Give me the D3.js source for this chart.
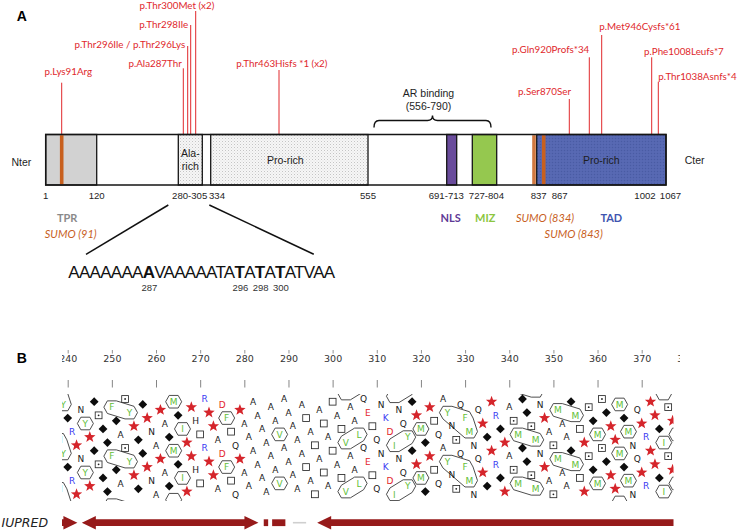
<!DOCTYPE html>
<html><head><meta charset="utf-8">
<script src="https://cdn.jsdelivr.net/npm/d3@7"></script>
<style>
body{margin:0;background:#fff;}
svg{display:block;}
</style></head><body>
<svg id="c" width="738" height="531"></svg>
<script>
// ================= DATA =================
// Panel A: protein schematic (residue numbers)
const domainStarts = [1, 280, 334, 691, 727, 837];
const domainEnds   = [120, 305, 555, 713, 804, 1067];
const domainNames  = ["TPR", "Ala-rich", "Pro-rich", "NLS", "MIZ", "TAD"];
const domainInner  = ["", "Ala-|rich", "Pro-rich", "", "", "Pro-rich"];
const sumoSites    = [91, 834, 843];
const mutationPos  = [91, 287, 296, 298, 300, 463, 870, 920, 946, 1008, 1038];
const mutationLabels = ["p.Lys91Arg", "p.Ala287Thr", "p.Thr296Ile / p.Thr296Lys", "p.Thr298Ile",
  "p.Thr300Met (x2)", "p.Thr463Hisfs *1 (x2)", "p.Ser870Ser", "p.Gln920Profs*34",
  "p.Met946Cysfs*61", "p.Phe1008Leufs*7", "p.Thr1038Asnfs*4"];
const boundaryLabels = ["1", "120", "280-305", "334", "555", "691-713", "727-804", "837", "867", "1002", "1067"];
const boundaryRes    = [1, 120, 292.5, 334, 555, 691, 765.5, 837, 867, 1002, 1067];
const annotLabels = ["TPR", "SUMO (91)", "NLS", "MIZ", "SUMO (834)", "TAD", "SUMO (843)"];
const annotRes    = [60.5, 91, 702, 765.5, 834, 952, 843];
const arBinding = [556, 790];
const zoomRange = [280, 305];
const zoomSeq = "AAAAAAAAVAAAAATATATATATVAA";
const zoomHighlights = [287, 296, 298, 300];

// Panel B: HCA of residues 238-378
const hcaStart = 238;
const seqBefore = "MYGRPNYPGSGGFGASYPGGPNAPAGMGIPPHTRPPADFTQP";
const seqAfter  = "LQETQNKDINQYGPMGPTQAYNSQFMNQPGPRGPASMGGSMNPASMAAGMTPSGMSGPPMGMNQPRPPGISPL";
const hcaTicks = [240, 250, 260, 270, 280, 290, 300, 310, 320, 330, 340, 350, 360, 370, 380];
// IUPRED disorder segments (residues)
const iupredStart = [236, 243.2, 284.4, 286.3, 291, 296.5];
const iupredEnd   = [242.2, 283.2, 285.4, 289.3, 294, 385];
const iupredType  = ["right", "both", "block", "block", "gap", "left"];

// ================= LAYOUT =================
// schematic (non-proportional) position map of the drawn protein bar
const schemKnots = [1, 91, 120, 280, 287, 296, 298, 300, 305, 334, 463, 555, 556, 691, 713, 727, 790, 804, 834, 837, 843, 867, 870, 920, 946, 1002, 1008, 1038, 1067];
const schemX     = [45.7, 61.7, 96.7, 178.3, 183.3, 187.7, 190.7, 195.7, 202.3, 210.7, 279, 368, 374, 446.7, 456.7, 472.3, 491, 496.7, 534, 536.7, 543.7, 559.7, 569.3, 589.3, 601.7, 645, 651.7, 658.3, 666];
const mutLabelY = [71, 63.3, 44, 24, 5, 63.3, 91.7, 49.3, 26, 51.7, 76.7];
const mutLineTop = [82.7, 68.3, 46, 25, 11, 70, 99, 57.3, 35, 57.3, 81.7];
const mutAnchor = ["middle", "end", "end", "end", "end", "middle", "end", "end", "start", "start", "start"];
const mutDx = [6.6, -1.5, -2.5, -2.5, 18.6, 2.8, 1.7, 0, -2.4, -7.7, 0];
const boundaryDx = [0, 0, 3.7, 6.3, 0, -0.4, 2.7, 2, 0, 0, 4.5];
const annotDx = [10.9, 9, -1, 1.5, 11, 5, 30];
const annotRow = [0, 1, 0, 0, 0, 0, 1];

const C = {
  red: "#e0282c", tpr: "#d2d2d2", nls: "#6a4c9c", miz: "#95c84f", tad: "#5567b1",
  sumo: "#c8601e", text: "#1e1e1e"
};
const annotColor = ["#8a8a8a", C.sumo, "#5e3a96", "#8cc63f", C.sumo, "#3f55b0", C.sumo];

const svg = d3.select("#c");
const defs = svg.append("defs");
const pat = defs.append("pattern").attr("id", "stip").attr("width", 3).attr("height", 3).attr("patternUnits", "userSpaceOnUse");
pat.append("rect").attr("width", 3).attr("height", 3).attr("fill", "#f6f6f6");
pat.append("rect").attr("width", 1).attr("height", 1).attr("fill", "#c4c4c4");
pat.append("rect").attr("x", 1.5).attr("y", 1.5).attr("width", 1).attr("height", 1).attr("fill", "#dadada");
const patB = defs.append("pattern").attr("id", "stipBlue").attr("width", 3).attr("height", 3).attr("patternUnits", "userSpaceOnUse");
patB.append("rect").attr("width", 3).attr("height", 3).attr("fill", C.tad);
patB.append("rect").attr("width", 1).attr("height", 1).attr("fill", "#4a5ba3");
patB.append("rect").attr("x", 1.5).attr("y", 1.5).attr("width", 1).attr("height", 1).attr("fill", "#6070b8");

const SANS = "'Liberation Sans', Arial, sans-serif";
const LATO = "Lato, 'Open Sans', sans-serif";
const DEJA = "'DejaVu Sans', Verdana, sans-serif";

// ================= PANEL A =================
const xA = d3.scaleLinear().domain(schemKnots).range(schemX);
const barTop = 134.5, barBot = 185;

svg.append("text").attr("x", 21.7).attr("y", 21).attr("text-anchor", "middle")
  .attr("font-family", SANS).attr("font-weight", "bold").attr("font-size", 14).text("A");

// mutation lines + labels
const gMut = svg.append("g");
mutationPos.forEach((p, k) => {
  const x = xA(p);
  gMut.append("line").attr("x1", x).attr("x2", x).attr("y1", mutLineTop[k]).attr("y2", barTop)
    .attr("stroke", C.red).attr("stroke-width", 1);
  gMut.append("text").attr("x", x + mutDx[k]).attr("y", mutLabelY[k]).attr("dy", "0.36em")
    .attr("text-anchor", mutAnchor[k]).attr("font-family", LATO).attr("font-size", 9.8)
    .attr("fill", C.red).text(mutationLabels[k]);
});

// AR binding brace
{
  const x1 = xA(arBinding[0]), x2 = xA(arBinding[1]), xc = (x1 + x2) / 2;
  const yb = 120.5, yt = 127.5, yc = 115.5;
  svg.append("path").attr("d",
    `M${x1},${yt} Q${x1},${yb} ${x1 + 5},${yb} L${xc - 5},${yb} Q${xc},${yb} ${xc},${yc} Q${xc},${yb} ${xc + 5},${yb} L${x2 - 5},${yb} Q${x2},${yb} ${x2},${yt}`)
    .attr("fill", "none").attr("stroke", "#111").attr("stroke-width", 1.4);
  const t = svg.append("text").attr("x", xc - 4).attr("y", 97).attr("text-anchor", "middle")
    .attr("font-family", SANS).attr("font-size", 10.5).attr("fill", C.text);
  t.append("tspan").attr("x", xc - 4).text("AR binding");
  t.append("tspan").attr("x", xc - 4).attr("dy", 12.7).text(`(${arBinding[0]}-${arBinding[1]})`);
}

// bar base
svg.append("rect").attr("x", xA(1)).attr("y", barTop).attr("width", xA(1067) - xA(1))
  .attr("height", barBot - barTop).attr("fill", "#fff");
const domFill = [C.tpr, "url(#stip)", "url(#stip)", C.nls, C.miz, "url(#stipBlue)"];
domainStarts.forEach((s, k) => {
  svg.append("rect").attr("x", xA(s)).attr("y", barTop).attr("width", xA(domainEnds[k]) - xA(s))
    .attr("height", barBot - barTop).attr("fill", domFill[k]).attr("stroke", "#151515").attr("stroke-width", 1.3);
});
// SUMO sites
sumoSites.forEach((s, k) => {
  svg.append("rect").attr("x", xA(s) - 1.8).attr("y", barTop + 0.7).attr("width", 3.6)
    .attr("height", barBot - barTop - 1.4).attr("fill", C.sumo).attr("opacity", k === 1 ? 0.85 : 1);
});
// outer border
svg.append("rect").attr("x", xA(1)).attr("y", barTop).attr("width", xA(1067) - xA(1))
  .attr("height", barBot - barTop).attr("fill", "none").attr("stroke", "#151515").attr("stroke-width", 1.5);
// inner labels
domainStarts.forEach((s, k) => {
  if (!domainInner[k]) return;
  const cx = (xA(s) + xA(domainEnds[k])) / 2;
  const lines = domainInner[k].split("|");
  const t = svg.append("text").attr("text-anchor", "middle").attr("font-family", SANS)
    .attr("font-size", 10.5).attr("fill", C.text);
  const y0 = (barTop + barBot) / 2 - (lines.length - 1) * 6.2;
  lines.forEach((ln, j) => t.append("tspan").attr("x", cx - (lines.length === 1 && k === 2 ? 4 : 0))
    .attr("y", y0 + j * 12.4).attr("dy", "0.36em").text(ln));
});
svg.append("text").attr("x", 21.3).attr("y", 162).attr("dy", "0.36em").attr("text-anchor", "middle")
  .attr("font-family", SANS).attr("font-size", 10.5).attr("fill", C.text).text("Nter");
svg.append("text").attr("x", 694.7).attr("y", 160.7).attr("dy", "0.36em").attr("text-anchor", "middle")
  .attr("font-family", SANS).attr("font-size", 10.5).attr("fill", C.text).text("Cter");

// boundary labels
boundaryLabels.forEach((lab, k) => {
  svg.append("text").attr("x", xA(boundaryRes[k]) + boundaryDx[k]).attr("y", 196).attr("dy", "0.36em")
    .attr("text-anchor", "middle").attr("font-family", SANS).attr("font-size", 9.6)
    .attr("fill", C.text).text(lab);
});
// annotation labels
annotLabels.forEach((lab, k) => {
  const isSumo = lab.startsWith("SUMO");
  svg.append("text").attr("x", xA(annotRes[k]) + annotDx[k]).attr("y", annotRow[k] ? 234 : 218.3)
    .attr("dy", "0.36em").attr("text-anchor", "middle").attr("font-family", LATO)
    .attr("font-size", 11).attr("font-weight", isSumo ? "normal" : "bold")
    .attr("font-style", isSumo ? "italic" : "normal").attr("fill", annotColor[k]).text(lab);
});

// zoomed sequence
const seqT = svg.append("text").attr("x", 68.3).attr("y", 278.4).attr("font-family", SANS)
  .attr("font-size", 17).attr("letter-spacing", "-0.72px").attr("fill", "#111");
zoomSeq.split("").forEach((c, k) => {
  const r = zoomRange[0] + k;
  const ts = seqT.append("tspan").text(c);
  if (zoomHighlights.includes(r)) ts.attr("font-weight", "bold");
});
const bb = seqT.node().getBBox();
svg.append("line").attr("x1", xA(zoomRange[0]) - 10).attr("y1", 205).attr("x2", bb.x + 17.7).attr("y2", 254.3)
  .attr("stroke", "#111").attr("stroke-width", 1.5);
svg.append("line").attr("x1", xA(334) - 1.4).attr("y1", 205).attr("x2", bb.x + bb.width - 22).attr("y2", 254.3)
  .attr("stroke", "#111").attr("stroke-width", 1.5);
zoomHighlights.forEach(r => {
  const k = r - zoomRange[0];
  const ext = seqT.node().getExtentOfChar(k);
  svg.append("text").attr("x", ext.x + ext.width / 2 + 1).attr("y", 287.7).attr("dy", "0.36em")
    .attr("text-anchor", "middle").attr("font-family", SANS).attr("font-size", 9.5)
    .attr("fill", "#333").text(r);
});

// ================= PANEL B =================
svg.append("text").attr("x", 21.7).attr("y", 363.3).attr("text-anchor", "middle")
  .attr("font-family", SANS).attr("font-weight", "bold").attr("font-size", 14).text("B");

const xB = d3.scaleLinear().domain([240, 370]).range([67.7, 641.7]);
const yNet = d3.scaleLinear().domain([100, 460]).range([399, 448]);
const clipL = 62, clipR = 673.5;
defs.append("clipPath").attr("id", "clipTicks").append("rect")
  .attr("x", clipL).attr("y", 340).attr("width", 680 - clipL).attr("height", 50);
defs.append("clipPath").attr("id", "clipNet").append("rect")
  .attr("x", clipL).attr("y", 394).attr("width", clipR - clipL).attr("height", 107);
defs.append("clipPath").attr("id", "clipIup").append("rect")
  .attr("x", clipL).attr("y", 505).attr("width", clipR - clipL).attr("height", 30);

const gTicks = svg.append("g").attr("clip-path", "url(#clipTicks)");
const axTop = gTicks.append("g").attr("transform", "translate(0,350)")
  .call(d3.axisBottom(xB).tickValues(hcaTicks).tickSize(3.5).tickPadding(2.2).tickFormat(d3.format("d")));
axTop.select(".domain").remove();
axTop.selectAll(".tick line").attr("stroke", "#777").attr("stroke-width", 0.8);
axTop.selectAll(".tick text").attr("font-family", DEJA).attr("font-size", 9.5).attr("fill", "#333");
const axBot = gTicks.append("g").attr("transform", "translate(0,380)")
  .call(d3.axisBottom(xB).tickValues(hcaTicks).tickSize(7.5).tickFormat(""));
axBot.select(".domain").remove();
axBot.selectAll(".tick line").attr("stroke", "#666").attr("stroke-width", 0.8);

const hcaSeq = seqBefore + zoomSeq + seqAfter;
const residues = hcaSeq.split("").map((aa, k) => {
  const i = hcaStart + k;
  let t = (i * 100) % 360;
  if (t < 90) t += 360;
  return { aa, i, t };
});
const hydro = new Set("VILMFYW".split(""));
const gNet = svg.append("g").attr("clip-path", "url(#clipNet)");

// hydrophobic clusters
const hp = residues.filter(r => hydro.has(r.aa));
const parent = hp.map((_, k) => k);
const find = a => { while (parent[a] !== a) a = parent[a] = parent[parent[a]]; return a; };
for (let a = 0; a < hp.length; a++) {
  for (let b = a + 1; b < hp.length; b++) {
    const d = hp[b].i - hp[a].i;
    if (d > 4) break;
    if (d === 2) continue;
    const between = hcaSeq.slice(hp[a].i - hcaStart + 1, hp[b].i - hcaStart);
    if (between.includes("P")) continue;
    parent[find(b)] = find(a);
  }
}
const groups = d3.groups(hp.map((r, k) => ({ ...r, root: find(k) })), d => d.root).map(g => g[1]);
const hex = [[-8, 0], [-4.5, -6.3], [4.5, -6.3], [8, 0], [4.5, 6.3], [-4.5, 6.3]];
groups.forEach(members => {
  const t0 = members[0].t;
  const mm = members.map(m => {
    let t = m.t;
    while (t - t0 > 180) t -= 360;
    while (t0 - t > 180) t += 360;
    return { i: m.i, t };
  });
  [-360, 0, 360, 720].forEach(off => {
    const pts = [];
    mm.forEach(m => hex.forEach(v => pts.push([xB(m.i) + v[0], yNet(m.t + off) + v[1]])));
    const hull = d3.polygonHull(pts);
    gNet.append("path").attr("d", "M" + hull.map(p => p.join(",")).join("L") + "Z")
      .attr("fill", "none").attr("stroke", "#3a3a3a").attr("stroke-width", 0.9).attr("stroke-linejoin", "round");
  });
});

// residue glyphs
function starPath(R, r) {
  const p = [];
  for (let k = 0; k < 10; k++) {
    const a = -Math.PI / 2 + k * Math.PI / 5;
    const rr = k % 2 ? r : R;
    p.push([rr * Math.cos(a), rr * Math.sin(a)]);
  }
  return "M" + p.map(q => q.join(",")).join("L") + "Z";
}
const STAR = starPath(6, 2.5);
const letterColor = aa => hydro.has(aa) ? "#62c038" : (aa === "R" || aa === "K") ? "#3b3bf2" :
  (aa === "D" || aa === "E") ? "#e3262b" : "#1a1a1a";
residues.forEach(r => {
  [0, 360].forEach(off => {
    const x = xB(r.i), y = yNet(r.t + off);
    if (r.aa === "P") {
      gNet.append("path").attr("d", STAR).attr("transform", `translate(${x},${y})`).attr("fill", "#d5252b");
    } else if (r.aa === "G") {
      gNet.append("path").attr("d", "M0,-4.4L4.4,0L0,4.4L-4.4,0Z").attr("transform", `translate(${x},${y})`).attr("fill", "#0d0d0d");
    } else if (r.aa === "T" || r.aa === "S") {
      gNet.append("rect").attr("x", x - 3.4).attr("y", y - 3.4).attr("width", 6.8).attr("height", 6.8)
        .attr("fill", "#fff").attr("stroke", "#2a2a2a").attr("stroke-width", 0.85);
      if (r.aa === "S") gNet.append("circle").attr("cx", x).attr("cy", y).attr("r", 0.9).attr("fill", "#222");
    } else {
      gNet.append("text").attr("x", x).attr("y", y).attr("dy", "0.36em").attr("text-anchor", "middle")
        .attr("font-family", DEJA).attr("font-size", 9).attr("fill", letterColor(r.aa)).text(r.aa);
    }
  });
});

// IUPRED
svg.append("text").attr("x", 1.5).attr("y", 522.7).attr("dy", "0.36em").attr("font-family", DEJA)
  .attr("font-style", "italic").attr("font-size", 12.5).attr("fill", "#222").text("IUPRED");
const gIup = svg.append("g").attr("clip-path", "url(#clipIup)");
const yc = 522.7, hs = 3.4, hh = 6.7, hl = 14;
iupredStart.forEach((s, k) => {
  const x1 = xB(s), x2 = xB(iupredEnd[k]), type = iupredType[k];
  if (type === "gap") {
    gIup.append("line").attr("x1", x1).attr("x2", x2).attr("y1", yc).attr("y2", yc)
      .attr("stroke", "#cfcfcf").attr("stroke-width", 1.6);
    return;
  }
  const L = type === "left" || type === "both", R = type === "right" || type === "both";
  const pts = [];
  if (L) pts.push([x1, yc], [x1 + hl, yc - hh], [x1 + hl, yc - hs]); else pts.push([x1, yc + hs], [x1, yc - hs]);
  if (R) pts.push([x2 - hl, yc - hs], [x2 - hl, yc - hh], [x2, yc], [x2 - hl, yc + hh], [x2 - hl, yc + hs]);
  else pts.push([x2, yc - hs], [x2, yc + hs]);
  if (L) pts.push([x1 + hl, yc + hs], [x1 + hl, yc + hh]);
  gIup.append("path").attr("d", "M" + pts.map(p => p.join(",")).join("L") + "Z").attr("fill", "#961a1a");
});
</script>
</body></html>
